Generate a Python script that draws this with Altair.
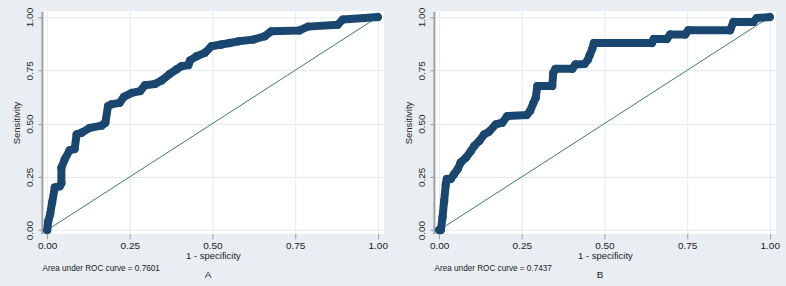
import altair as alt
import pandas as pd

# ROC curve A (1 - specificity, sensitivity)
a_fpr = [0.0, 0.003, 0.009, 0.015, 0.023, 0.038, 0.043, 0.043, 0.053, 0.068, 0.083, 0.089,
         0.104, 0.129, 0.164, 0.176, 0.184, 0.194, 0.219, 0.232, 0.256, 0.281, 0.296, 0.326,
         0.346, 0.371, 0.391, 0.406, 0.427, 0.432, 0.452, 0.477, 0.497, 0.527, 0.552, 0.578,
         0.623, 0.658, 0.678, 0.763, 0.789, 0.879, 0.894, 0.96, 1.0]
a_tpr = [0.0, 0.04, 0.075, 0.13, 0.2, 0.205, 0.22, 0.293, 0.332, 0.375, 0.38, 0.449,
         0.457, 0.48, 0.49, 0.504, 0.582, 0.59, 0.597, 0.625, 0.644, 0.652, 0.68, 0.686,
         0.702, 0.733, 0.754, 0.769, 0.774, 0.796, 0.816, 0.832, 0.863, 0.871, 0.878, 0.886,
         0.894, 0.91, 0.933, 0.937, 0.955, 0.964, 0.988, 0.995, 1.0]

# ROC curve B
b_fpr = [0.0, 0.005, 0.01, 0.015, 0.02, 0.023, 0.035, 0.045, 0.056, 0.065, 0.081, 0.096,
         0.106, 0.121, 0.136, 0.151, 0.171, 0.191, 0.206, 0.265, 0.275, 0.285, 0.292, 0.297,
         0.342, 0.345, 0.352, 0.403, 0.412, 0.44, 0.45, 0.455, 0.463, 0.468, 0.644, 0.649,
         0.689, 0.699, 0.744, 0.754, 0.88, 0.89, 0.95, 0.961, 1.0]
b_tpr = [0.0, 0.0, 0.059, 0.137, 0.215, 0.24, 0.24, 0.262, 0.286, 0.317, 0.34, 0.371,
         0.395, 0.418, 0.449, 0.462, 0.496, 0.504, 0.535, 0.54, 0.559, 0.597, 0.62, 0.676,
         0.676, 0.738, 0.757, 0.757, 0.777, 0.78, 0.8, 0.82, 0.85, 0.878, 0.878, 0.897,
         0.897, 0.918, 0.918, 0.938, 0.938, 0.977, 0.977, 0.995, 1.0]

diag_x = [0.0, 1.0]
diag_y = [0.0, 1.0]
ticks = [0.0, 0.25, 0.5, 0.75, 1.0]
auc_texts = ["Area under ROC curve = 0.7601", "Area under ROC curve = 0.7437"]
panel_letters = ["A", "B"]

FONT = "Liberation Sans"
NAVY = "#1a476f"
GREEN = "#3c7a68"
TXT = "#222222"
W, H = 343, 223


def panel(fpr, tpr, auc, letter):
    df = pd.DataFrame({"fpr": fpr, "tpr": tpr, "ord": list(range(len(fpr)))})
    ddf = pd.DataFrame({"fpr": diag_x, "tpr": diag_y})
    xs = alt.Scale(domain=[-0.016, 1.019], nice=False, zero=False)
    ys = alt.Scale(domain=[-0.0173, 1.0267], nice=False, zero=False)
    xax = alt.Axis(values=ticks, format=".2f", title="1 - specificity", domain=False,
                   tickSize=5, labelPadding=2, titlePadding=0)
    yax = alt.Axis(values=ticks, format=".2f", title="Sensitivity", domain=True,
                   domainColor="#a0a0a0", domainWidth=2, tickSize=4, labelPadding=3,
                   labelAngle=270, labelAlign="center", labelBaseline="bottom",
                   titlePadding=3)
    base_x = alt.X("fpr:Q", scale=xs, axis=xax)
    base_y = alt.Y("tpr:Q", scale=ys, axis=yax)
    diag = alt.Chart(ddf).mark_line(color=GREEN, strokeWidth=1).encode(x=base_x, y=base_y)
    curve = alt.Chart(df).mark_line(color=NAVY, strokeWidth=8, strokeCap="round",
                                    strokeJoin="round").encode(
        x="fpr:Q", y="tpr:Q", order="ord:Q")
    dots = alt.Chart(df).mark_circle(color=NAVY, size=70, opacity=1).encode(
        x="fpr:Q", y="tpr:Q")
    note = alt.Chart(pd.DataFrame({"t": [auc]})).mark_text(
        align="left", baseline="middle", fontSize=8.2, font=FONT, color=TXT).encode(
        x=alt.value(0.7), y=alt.value(258), text="t:N")
    lab = alt.Chart(pd.DataFrame({"t": [letter]})).mark_text(
        align="center", baseline="middle", fontSize=10, font=FONT, color=TXT).encode(
        x=alt.value(166.7), y=alt.value(264), text="t:N")
    return alt.layer(diag, curve, dots, note, lab).properties(width=W, height=H)


pa = panel(a_fpr, a_tpr, auc_texts[0], panel_letters[0])
pb = panel(b_fpr, b_tpr, auc_texts[1], panel_letters[1])

chart = alt.hconcat(pa, pb, spacing=50, bounds="flush").resolve_scale(
    x="independent", y="independent"
).properties(
    padding={"left": 12, "top": 6, "right": 6, "bottom": 9}
).configure(
    background="#e8eef2", font=FONT
).configure_view(
    fill="white", stroke=None
).configure_axis(
    labelFont=FONT, labelFontSize=10, labelColor=TXT,
    titleFont=FONT, titleFontSize=9.5, titleFontWeight="normal", titleColor=TXT,
    tickColor="#999999", gridColor="#e2ebf0", gridWidth=1
)

chart.save("out.html", embed_options={"renderer": "svg", "actions": False})
